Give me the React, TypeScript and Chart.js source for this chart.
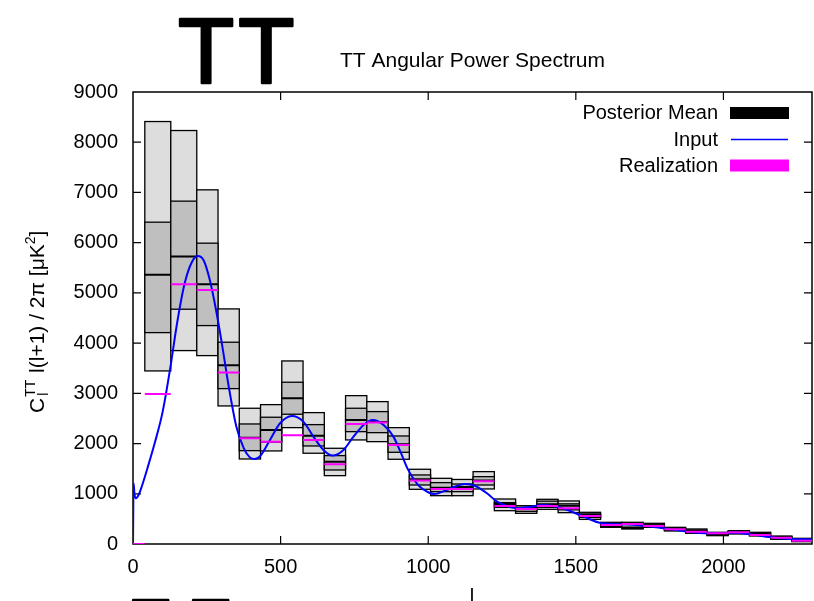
import React, { useEffect, useRef } from "react";
import { Chart, registerables } from "chart.js";

Chart.register(...registerables);

const FONT = '"Liberation Sans", Arial, Helvetica, sans-serif';

const bigLabel = "TT";
const titleText = "TT Angular Power Spectrum";
const xAxisLabel = "l";

const xTickValues = [0, 500, 1000, 1500, 2000];
const yTickValues = [0, 1000, 2000, 3000, 4000, 5000, 6000, 7000, 8000, 9000];

// multipole bin edges (33 edges -> 32 bins)
const binEdges = [0, 40, 128, 216, 288, 360, 432, 504, 576, 648, 720, 792, 864, 936, 1008, 1080, 1152, 1224, 1296, 1368, 1440, 1512, 1584, 1656, 1728, 1800, 1872, 1944, 2016, 2088, 2160, 2232, 2304];
const outerHigh = [0, 8412, 8233, 7052, 4681, 2703, 2775, 3645, 2616, 1906, 2954, 2835, 2317, 1488, 1308, 1285, 1441, 896, 763, 890, 857, 631, 432, 432, 412, 332, 299, 233, 266, 233, 159, 113];
const innerHigh = [0, 6408, 6827, 5990, 4018, 2390, 2524, 3221, 2377, 1760, 2703, 2636, 2151, 1375, 1222, 1195, 1341, 823, 731, 853, 800, 600, 410, 410, 395, 315, 280, 222, 250, 215, 145, 100];
const postMean = [0, 5359, 5723, 5173, 3560, 2118, 2271, 2902, 2157, 1640, 2470, 2430, 1985, 1288, 1122, 1135, 1265, 797, 710, 790, 760, 575, 390, 330, 370, 295, 260, 200, 235, 200, 130, 85];
const innerLow = [0, 4209, 4675, 4349, 3094, 1859, 2030, 2584, 1952, 1474, 2237, 2217, 1826, 1175, 1042, 1042, 1175, 731, 650, 730, 680, 530, 350, 310, 345, 275, 230, 180, 215, 175, 110, 60];
const outerLow = [0, 3446, 3851, 3751, 2749, 1693, 1853, 2317, 1807, 1361, 2072, 2038, 1687, 1089, 962, 962, 1096, 663, 611, 690, 624, 490, 332, 299, 332, 259, 213, 166, 199, 159, 93, 46];
const realization = [0, 2988, 5173, 5060, 3413, 2105, 2038, 2165, 2072, 1587, 2390, 2417, 1972, 1262, 1095, 1095, 1250, 757, 697, 757, 711, 558, 378, 398, 358, 292, 246, 213, 233, 179, 126, 66];

// input spectrum
const inputL = [0, 2, 5, 10, 20, 30, 50, 75, 100, 125, 150, 175, 200, 220, 240, 260, 280, 300, 325, 350, 375, 395, 412, 432, 464, 498, 538, 577, 611, 645, 676, 713, 747, 781, 812, 849, 882, 905, 930, 950, 970, 1000, 1020, 1063, 1125, 1159, 1199, 1233, 1267, 1301, 1335, 1391, 1436, 1481, 1526, 1589, 1662, 1730, 1798, 1877, 1945, 2024, 2092, 2159, 2227, 2300];
const inputCl = [0, 1210, 1000, 910, 990, 1150, 1530, 2040, 2620, 3460, 4420, 5190, 5620, 5735, 5640, 5260, 4700, 4030, 3110, 2340, 1910, 1730, 1690, 1760, 2072, 2404, 2550, 2437, 2138, 1873, 1760, 1873, 2138, 2371, 2470, 2371, 2138, 1850, 1500, 1300, 1150, 1030, 995, 1076, 1195, 1155, 1010, 843, 757, 711, 731, 777, 743, 657, 544, 412, 392, 365, 312, 246, 213, 226, 193, 133, 100, 93];

const legendLabels = ["Posterior Mean", "Input", "Realization"];

function segments(values: number[]) {
  const pts: { x: number; y: number | null }[] = [];
  for (let i = 0; i < values.length; i++) {
    pts.push({ x: binEdges[i], y: values[i] });
    pts.push({ x: binEdges[i + 1], y: values[i] });
    pts.push({ x: binEdges[i + 1], y: null });
  }
  return pts;
}

const decorPlugin = {
  id: "decor",
  beforeDatasetsDraw(chart: any) {
    const { ctx, chartArea: a } = chart;
    const xs = chart.scales.x;
    const ys = chart.scales.y;
    ctx.save();
    // border
    ctx.strokeStyle = "#000";
    ctx.lineWidth = 1.5;
    ctx.strokeRect(a.left, a.top, a.right - a.left, a.bottom - a.top);
    // inward ticks (mirrored)
    ctx.lineWidth = 1.2;
    const tl = 8;
    ctx.beginPath();
    xs.ticks.forEach((t: any) => {
      const px = xs.getPixelForValue(t.value);
      if (px <= a.left + 1 || px >= a.right - 1) return;
      ctx.moveTo(px, a.bottom);
      ctx.lineTo(px, a.bottom - tl);
      ctx.moveTo(px, a.top);
      ctx.lineTo(px, a.top + tl);
    });
    ys.ticks.forEach((t: any) => {
      const py = ys.getPixelForValue(t.value);
      if (py <= a.top + 1 || py >= a.bottom - 1) return;
      ctx.moveTo(a.left, py);
      ctx.lineTo(a.left + tl, py);
      ctx.moveTo(a.right, py);
      ctx.lineTo(a.right - tl, py);
    });
    ctx.stroke();

    // boxes
    ctx.beginPath();
    ctx.rect(a.left, a.top, a.right - a.left, a.bottom - a.top);
    ctx.clip();
    ctx.lineWidth = 1.3;
    ctx.strokeStyle = "#000";
    for (let i = 0; i < outerHigh.length; i++) {
      const x0 = xs.getPixelForValue(binEdges[i]);
      const x1 = xs.getPixelForValue(binEdges[i + 1]);
      const box = (lo: number, hi: number, fill: string) => {
        const yt = ys.getPixelForValue(hi);
        const yb = ys.getPixelForValue(lo);
        ctx.fillStyle = fill;
        ctx.fillRect(x0, yt, x1 - x0, yb - yt);
        ctx.strokeRect(x0, yt, x1 - x0, yb - yt);
      };
      box(outerLow[i], outerHigh[i], "#dddddd");
      box(innerLow[i], innerHigh[i], "#bfbfbf");
    }
    ctx.restore();
  },
  afterDraw(chart: any) {
    const ctx = chart.ctx as CanvasRenderingContext2D;
    ctx.save();
    ctx.fillStyle = "#000";
    ctx.strokeStyle = "#000";
    ctx.textAlign = "left";
    ctx.textBaseline = "alphabetic";

    // big stroked label at top
    ctx.font = `92px ${FONT}`;
    (ctx as any).letterSpacing = "4px";
    ctx.lineJoin = "round";
    ctx.lineWidth = 2.5;
    ctx.fillText(bigLabel, 178, 83);
    ctx.strokeText(bigLabel, 178, 83);
    // partially visible label at bottom
    ctx.font = `62px ${FONT}`;
    (ctx as any).letterSpacing = "22px";
    ctx.fillText(bigLabel, 131.8, 642);
    ctx.strokeText(bigLabel, 131.8, 642);
    (ctx as any).letterSpacing = "0px";

    // title
    ctx.font = `21px ${FONT}`;
    ctx.fillText(titleText, 340, 66.5);

    // legend
    ctx.font = `20px ${FONT}`;
    ctx.textAlign = "right";
    ctx.fillText(legendLabels[0], 718, 119);
    ctx.fillText(legendLabels[1], 718, 145.5);
    ctx.fillText(legendLabels[2], 718, 172);
    ctx.fillStyle = "#000";
    ctx.fillRect(730, 107, 59, 12);
    ctx.fillStyle = "#ff00ff";
    ctx.fillRect(730, 159.5, 59, 12);
    ctx.strokeStyle = "#0000ff";
    ctx.lineWidth = 1.5;
    ctx.beginPath();
    ctx.moveTo(731, 139.5);
    ctx.lineTo(788, 139.5);
    ctx.stroke();

    // x label
    ctx.fillStyle = "#000";
    ctx.textAlign = "center";
    ctx.font = `20px ${FONT}`;
    ctx.fillText(xAxisLabel, 472, 603);

    // y label (rotated, with sub/superscripts)
    ctx.translate(43.5, 413);
    ctx.rotate(-Math.PI / 2);
    ctx.textAlign = "left";
    const main = `21px ${FONT}`;
    const small = `14px ${FONT}`;
    let u = 0;
    ctx.font = main;
    ctx.fillText("C", u, 0);
    u += ctx.measureText("C").width + 1;
    ctx.font = small;
    ctx.fillText("l", u + 1, 4);
    ctx.fillText("TT", u, -9);
    u += ctx.measureText("TT").width + 1;
    ctx.font = main;
    const mid = " l(l+1) / 2\u03c0 [\u03bcK";
    ctx.fillText(mid, u, 0);
    u += ctx.measureText(mid).width;
    ctx.font = small;
    ctx.fillText("2", u, -9);
    u += ctx.measureText("2").width;
    ctx.font = main;
    ctx.fillText("]", u, 0);
    ctx.restore();
  },
};

export default function App() {
  const ref = useRef<HTMLCanvasElement>(null);
  useEffect(() => {
    Chart.defaults.font.family = FONT;
    const chart = new Chart(ref.current as HTMLCanvasElement, {
      type: "line",
      data: {
        datasets: [
          {
            label: "Realization",
            data: segments(realization) as any,
            borderColor: "#ff00ff",
            borderWidth: 2,
            pointRadius: 0,
            order: 0,
          },
          {
            label: "Input",
            data: inputL.map((l, i) => ({ x: l, y: inputCl[i] })) as any,
            borderColor: "#0000ff",
            borderWidth: 2,
            pointRadius: 0,
            cubicInterpolationMode: "monotone",
            order: 1,
          },
          {
            label: "Posterior Mean",
            data: segments(postMean) as any,
            borderColor: "#000000",
            borderWidth: 2,
            pointRadius: 0,
            order: 2,
          },
        ],
      },
      options: {
        responsive: false,
        maintainAspectRatio: false,
        animation: false,
        events: [],
        layout: { padding: { top: 92, right: 2, left: 0, bottom: 0 } },
        plugins: {
          legend: { display: false },
          tooltip: { enabled: false },
          title: { display: false },
        },
        scales: {
          x: {
            type: "linear",
            min: 0,
            max: 2300,
            grid: { display: false, drawTicks: false },
            border: { display: false },
            afterBuildTicks: (s: any) => {
              s.ticks = xTickValues.map((v) => ({ value: v }));
            },
            ticks: {
              color: "#000",
              font: { size: 20, family: FONT },
              padding: 11,
              maxRotation: 0,
              autoSkip: false,
              callback: (v: any) => String(v),
            },
            afterFit: (s: any) => {
              s.height = 57;
            },
          },
          y: {
            type: "linear",
            min: 0,
            max: 9000,
            grid: { display: false, drawTicks: false },
            border: { display: false },
            afterBuildTicks: (s: any) => {
              s.ticks = yTickValues.map((v) => ({ value: v }));
            },
            ticks: {
              color: "#000",
              font: { size: 20, family: FONT },
              padding: 15,
              autoSkip: false,
              callback: (v: any) => String(v),
            },
            afterFit: (s: any) => {
              s.width = 133;
            },
          },
        },
      },
      plugins: [decorPlugin],
    });
    return () => chart.destroy();
  }, []);
  return (
    <div style={{ position: "fixed", left: 0, top: 0, width: 814, height: 601, background: "#fff" }}>
      <canvas ref={ref} width={814} height={601} style={{ display: "block" }} />
    </div>
  );
}
